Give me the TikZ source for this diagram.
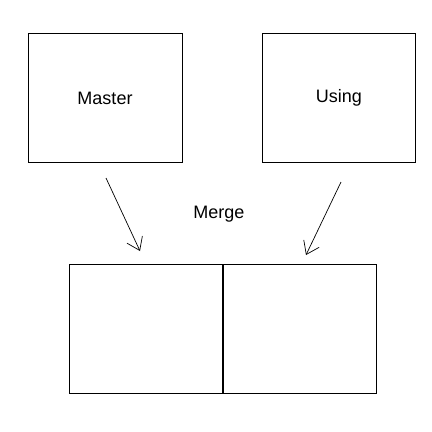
\documentclass[tikz,border=0pt]{standalone}
\usepackage{fontspec}
\setmainfont{Liberation Sans}
\usetikzlibrary{arrows.meta}

\tikzset{
  box/.style={draw, line width=0.8pt, inner sep=0pt, outer sep=0pt,
    minimum width=154pt, minimum height=129pt},
  lbl/.style={font=\fontsize{18}{21}\selectfont}
}

\begin{document}
\begin{tikzpicture}[x=1pt, y=-1pt, >={Straight Barb[length=12pt, width=17pt]}]
    % 1. Khung hinh
    \useasboundingbox (0, 0) rectangle (432, 432);

    % 2. Hai bang nguon
    \node[box, lbl] (master) at (105, 98) {Master};
    \node[box, lbl, minimum width=153pt] (using) at (339, 98) {Using};

    % 3. Bang ket qua
    \node[box] (left) at (146, 328.5) {};
    \node[box, minimum width=153pt] (right) at (299.5, 328.5) {};
    \draw[line width=1.6pt] (left.north east) -- (left.south east);

    % 4. Nhan va mui ten
    \node[lbl] (merge) at (219, 214) {Merge};
    \coordinate (m1) at (106, 178);
    \coordinate (m2) at (140, 251);
    \coordinate (u1) at (341, 182);
    \coordinate (u2) at (306, 255);
    \draw[->, line width=0.7pt] (m1) -- (m2);
    \draw[->, line width=0.7pt] (u1) -- (u2);
\end{tikzpicture}
\end{document}
